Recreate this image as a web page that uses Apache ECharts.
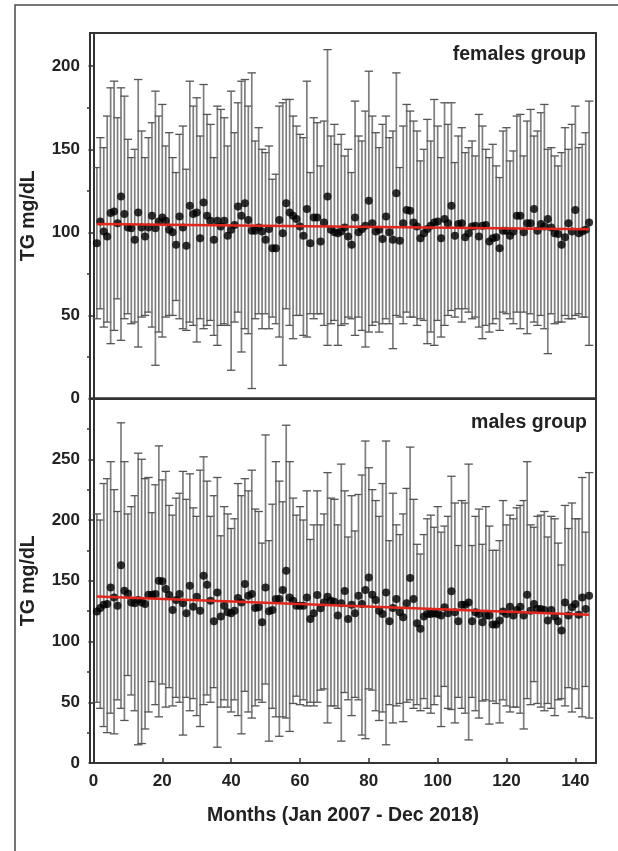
<!DOCTYPE html>
<html><head><meta charset="utf-8">
<script src="https://cdn.jsdelivr.net/npm/echarts@6/dist/echarts.min.js"></script>
<style>html,body{margin:0;padding:0;background:#fff}#c{width:618px;height:851px}</style>
</head><body><div id="c"></div>
<script>
// ---- tick values ----
const xTicks = [0, 20, 40, 60, 80, 100, 120, 140];
const femaleYTicks = [0, 50, 100, 150, 200];
const femaleYMinor = [25, 75, 125, 175];
const maleYTicks = [0, 50, 100, 150, 200, 250];
const maleYMinor = [25, 75, 125, 175, 225, 275];

// ---- females group (months 1..144) ----
const femaleMean = [
93.5,106.5,100.5,97.5,111.6,112.6,105.5,121.6,111,103,
102.5,95.5,112,103,97.5,103,110,102.5,106.5,109,
107,101.5,100,92.5,109.5,103,92,116,111,112,
96.5,118,110,107,95.5,107,103.5,107,98,101.5,
104.5,115.5,110,117.5,107.5,101,101,103,100.5,95.5,
102,90.5,90.5,107.5,99.5,117.5,112,110,108,103.5,
98,114,93.5,109,109,94.5,106,121.6,101.5,100,
99.5,100.5,103,97.5,92.5,109,100,102,104,119,
105.5,100.5,101.5,96,109.5,100,95.5,123.6,95,105.5,
113.5,113,106,103.5,96.5,99.5,102,104,106,106.5,
96.5,108,105.5,116,98,105,105.5,97,99.5,103.5,
104,97.5,104,104.5,94.5,96.5,97,90.5,101,101,
98,100.5,110,110,100,105.5,105.5,114,101,105,
103.5,108,103,99.5,99,92.5,97,105.5,100.5,113.5,
99.5,100.5,101.5,106];
const femaleUpper = [
139,157,151,170,187,191,169,187,182,156,
145,150,192,161,145,157,166,185,170,177,
152,160,145,136,159,164,138,191,176,181,
158,189,171,165,145,176,174,169,152,185,
160,178,191,192,176,196,155,163,150,148,
152,132,135,176,178,180,180,170,164,159,
157,191,136,169,166,140,167,210,158,165,
153,159,146,150,136,179,158,155,173,197,
170,160,151,165,170,157,161,196,139,164,
177,173,167,161,143,150,168,155,180,164,
145,178,165,178,142,158,163,148,151,155,
146,171,164,150,145,153,140,133,161,163,
143,149,170,171,146,167,174,158,161,172,
177,150,151,146,140,148,163,150,165,176,
151,153,160,179];
const femaleLower = [
48,54,43,46,33,41,60,35,48,51,
45,46,31,49,50,52,43,20,40,37,
49,50,50,59,48,42,41,46,44,34,
48,42,44,47,38,32,44,45,44,17,
46,52,28,42,39,6,48,51,42,51,
42,49,45,37,20,54,44,36,50,50,
38,37,51,48,51,51,44,32,45,47,
32,44,45,49,48,38,49,41,31,40,
44,46,40,45,48,45,30,50,49,45,
52,49,49,44,48,47,33,40,32,47,
37,44,50,53,49,54,46,54,52,48,
49,43,36,44,40,45,48,41,52,51,
48,45,52,42,52,39,51,46,44,50,
42,27,51,45,46,46,50,48,48,50,
51,49,49,32];
const trendMonths = [1, 144];
const femaleTrend = [105, 101.8];

// ---- males group (months 1..144) ----
const maleMean = [
124.6,127.6,130.3,130.9,144.5,136.3,129.5,162.8,141.8,139.6,
132.2,131.4,134.2,132.2,130.9,138.5,138.5,139.1,150,149.5,
143.2,138.3,126,134.2,139.1,131.4,123.2,145.9,128.7,136.9,
125.4,154.1,146.7,133.6,116.7,140.4,120.5,129.5,124,123.2,
125.4,135.8,132.2,147.3,137.7,139.1,127.6,128.1,115.8,144.5,
124.9,126,135,135,142.3,158.2,136.3,133.6,129.5,129.5,
129.5,136.3,118.6,123.2,138.3,127.3,132.2,136.9,133.6,132.8,
121.3,131.4,141.5,118.6,130.3,123.2,137.7,130.9,142.3,152.7,
138.5,134.2,125.4,122.7,140.4,116.7,127.6,135,124,120,
131.4,152.2,135,115,110.4,120.5,122.7,122.7,123.2,122.7,
121.3,128.1,123.2,141.3,124,116.7,130.3,130.3,132.2,116.7,
124,122.7,115.8,121.3,121.3,113.9,113.9,117.2,124.6,122.7,
128.7,121.3,126,128.7,121.3,138.5,125.4,130.9,126.8,126.8,
126,117.2,126,120.5,116.7,109,132.2,121.3,128.1,130.9,
122.1,136.3,126.8,137.7];
const maleUpper = [
205,200,230,234,248,225,207,280,248,205,
211,220,255,250,234,235,206,229,261,233,
240,212,204,218,222,240,217,238,210,203,
241,252,232,203,220,235,187,211,205,193,
201,230,220,234,224,241,209,207,181,270,
183,213,248,232,215,278,248,218,204,211,
200,224,184,196,224,196,205,239,218,217,
196,246,224,186,220,191,221,237,265,243,
225,216,203,230,265,183,222,196,188,205,
226,260,217,180,172,188,201,204,194,211,
190,195,203,236,214,179,216,214,246,179,
203,209,180,211,195,175,175,183,216,196,
204,201,210,212,216,248,196,194,203,204,
207,186,203,201,181,163,212,193,214,201,
201,235,190,239];
const maleLower = [
50,45,30,25,41,24,52,45,35,72,
56,43,15,16,28,42,67,48,38,65,
46,62,47,54,50,23,54,43,53,39,
30,48,56,50,62,13,46,52,46,42,
52,39,24,59,42,37,47,52,50,65,
18,45,38,22,38,37,26,49,55,48,
52,47,50,47,50,60,61,33,47,47,
45,18,58,52,39,54,52,23,20,61,
60,43,35,42,15,48,33,47,49,34,
50,52,45,48,43,53,45,41,48,55,
30,63,45,44,33,54,45,41,19,54,
43,37,51,52,32,51,49,33,52,47,
42,46,46,41,28,53,48,67,49,46,
43,49,45,39,52,53,47,62,42,61,
45,38,63,37];
const maleTrend = [137, 122];

// ---- build ----
const FONT = '"Liberation Sans", Arial, Helvetica, sans-serif';
const chart = echarts.init(document.getElementById('c'), null, {renderer: 'canvas'});

function errData(lo, hi) { return lo.map((l, i) => [i + 1, l, hi[i]]); }
function ptData(v) { return v.map((m, i) => [i + 1, m]); }
function trendData(t) { return trendMonths.map((m, i) => [m, t[i]]); }

function renderErr(params, api) {
  const x = api.value(0);
  const lo = api.coord([x, api.value(1)]);
  const hi = api.coord([x, api.value(2)]);
  const cw = 4.2;
  const barStyle = {stroke: '#7e7e7e', lineWidth: 1.7};
  const capStyle = {stroke: '#555', lineWidth: 1.3};
  return {type: 'group', children: [
    {type: 'line', shape: {x1: lo[0], y1: lo[1], x2: hi[0], y2: hi[1]}, style: barStyle},
    {type: 'line', shape: {x1: hi[0] - cw, y1: hi[1], x2: hi[0] + cw, y2: hi[1]}, style: capStyle},
    {type: 'line', shape: {x1: lo[0] - cw, y1: lo[1], x2: lo[0] + cw, y2: lo[1]}, style: capStyle}
  ]};
}

const labelStyle = {fontFamily: FONT, fontWeight: 'bold', fontSize: 17, color: '#222'};
const nameStyle = {fontFamily: FONT, fontWeight: 'bold', fontSize: 19.5, color: '#222'};
const frameColor = '#333';

function xAxisDef(gi, showLabels) {
  return {
    gridIndex: gi, type: 'value', min: -1, max: 146,
    axisLine: {show: true, lineStyle: {color: frameColor, width: 2}},
    splitLine: {show: false},
    axisTick: {show: showLabels, inside: true, length: 5, customValues: xTicks,
      lineStyle: {color: frameColor, width: 1.5}},
    axisLabel: Object.assign({show: showLabels, margin: 10, customValues: xTicks}, labelStyle),
    name: showLabels ? 'Months (Jan 2007 - Dec 2018)' : '',
    nameLocation: 'middle', nameGap: 43, nameTextStyle: nameStyle
  };
}
function yAxisMajor(gi, max, ticks) {
  return {
    gridIndex: gi, type: 'value', position: 'left', min: 0, max: max,
    axisLine: {show: true, lineStyle: {color: frameColor, width: 2}},
    splitLine: {show: false},
    axisTick: {show: true, inside: false, length: 5, customValues: ticks,
      lineStyle: {color: frameColor, width: 1.5}},
    axisLabel: Object.assign({show: true, margin: 10, customValues: ticks}, labelStyle),
    name: 'TG mg/dL', nameLocation: 'middle', nameGap: 51, nameRotate: 90,
    nameTextStyle: nameStyle
  };
}
function yAxisMinor(gi, max, ticks) {
  return {
    gridIndex: gi, type: 'value', position: 'left', offset: 0, min: 0, max: max,
    axisLine: {show: false},
    splitLine: {show: false},
    axisTick: {show: true, inside: false, length: 3, customValues: ticks,
      lineStyle: {color: frameColor, width: 1.5}},
    axisLabel: {show: false}
  };
}

const option = {
  animation: false,
  backgroundColor: '#fff',
  grid: [
    {left: 90, top: 33, width: 506, height: 365.5, show: true, borderColor: frameColor, borderWidth: 2, containLabel: false},
    {left: 90, top: 398.5, width: 506, height: 364.5, show: true, borderColor: frameColor, borderWidth: 2, containLabel: false}
  ],
  xAxis: [xAxisDef(0, false), xAxisDef(1, true)],
  yAxis: [
    yAxisMajor(0, 220, femaleYTicks), yAxisMinor(0, 220, femaleYMinor),
    yAxisMajor(1, 300, maleYTicks), yAxisMinor(1, 300, maleYMinor)
  ],
  series: [
    {type: 'custom', xAxisIndex: 0, yAxisIndex: 0, data: errData(femaleLower, femaleUpper),
      renderItem: renderErr, encode: {x: 0, y: [1, 2]}, silent: true, z: 2},
    {type: 'scatter', xAxisIndex: 0, yAxisIndex: 0, data: ptData(femaleMean),
      symbol: 'circle', symbolSize: 8, itemStyle: {color: '#000'}, silent: true, z: 3},
    {type: 'line', xAxisIndex: 0, yAxisIndex: 0, data: trendData(femaleTrend),
      symbol: 'none', lineStyle: {color: '#e3261b', width: 2.5}, silent: true, z: 4},
    {type: 'custom', xAxisIndex: 1, yAxisIndex: 2, data: errData(maleLower, maleUpper),
      renderItem: renderErr, encode: {x: 0, y: [1, 2]}, silent: true, z: 2},
    {type: 'scatter', xAxisIndex: 1, yAxisIndex: 2, data: ptData(maleMean),
      symbol: 'circle', symbolSize: 8, itemStyle: {color: '#000'}, silent: true, z: 3},
    {type: 'line', xAxisIndex: 1, yAxisIndex: 2, data: trendData(maleTrend),
      symbol: 'none', lineStyle: {color: '#e3261b', width: 2.5}, silent: true, z: 4}
  ],
  graphic: [
    {type: 'rect', shape: {x: 15, y: 5, width: 700, height: 900}, silent: true,
      style: {fill: 'none', stroke: '#4a4a4a', lineWidth: 1.5}, z: 10},
    {type: 'text', x: 586, y: 55, silent: true, z: 10,
      style: {text: 'females group', align: 'right', verticalAlign: 'middle',
        font: 'bold 19.5px ' + FONT, fill: '#222'}},
    {type: 'text', x: 587, y: 423, silent: true, z: 10,
      style: {text: 'males group', align: 'right', verticalAlign: 'middle',
        font: 'bold 19.5px ' + FONT, fill: '#222'}}
  ]
};
chart.setOption(option);
</script>
</body></html>
